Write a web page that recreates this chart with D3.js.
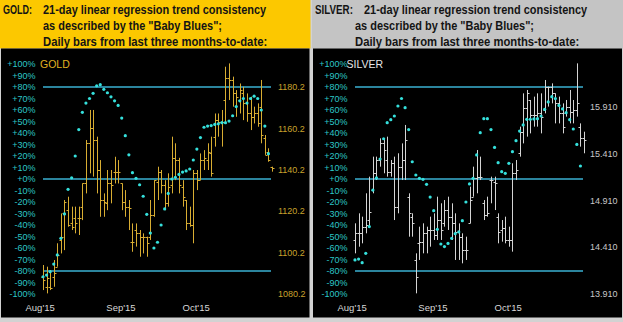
<!DOCTYPE html>
<html><head><meta charset="utf-8">
<script src="https://cdn.jsdelivr.net/npm/d3@7/dist/d3.min.js"></script>
<style>
html,body{margin:0;padding:0;background:#d2d2d2;}
svg{display:block;}
</style></head>
<body><svg id="c" width="623" height="322"></svg>
<script>
// ---------- DATA ----------
const pctTicks = [100,90,80,70,60,50,40,30,20,10,0,-10,-20,-30,-40,-50,-60,-70,-80,-90,-100];
const refLines = [80, 0, -80];
const monthLabels = ["Aug'15","Sep'15","Oct'15"];
const monthIndex = [-0.8, 21.8, 42.8];

const goldTitle = "GOLD";
const goldPriceTicks = [1180.2,1160.2,1140.2,1120.2,1100.2,1080.2];
const goldOpen  = [1088.5,1083.7,1083.7,1088.5,1093.4,1106.3,1119.1,1120.7,1114.3,1116.7,1116.7,1122.4,1133.6,1153.0,1160.2,1154.6,1140.1,1125.6,1124.0,1133.6,1139.3,1139.3,1133.6,1124.8,1122.4,1105.5,1111.1,1109.5,1107.9,1107.9,1107.9,1118.3,1134.4,1139.3,1132.8,1124.0,1132.8,1145.7,1144.9,1132.0,1125.6,1114.3,1113.5,1138.5,1135.2,1144.9,1144.9,1148.1,1156.2,1164.2,1163.4,1173.9,1184.4,1183.6,1177.1,1173.9,1177.1,1172.3,1167.4,1165.8,1167.4,1170.7,1155.4,1148.9,1141.7];
const goldHigh  = [1094.2,1093.4,1091.8,1096.6,1104.7,1119.1,1125.6,1127.2,1122.4,1122.4,1122.4,1133.6,1154.6,1169.1,1169.1,1156.2,1144.9,1128.8,1140.1,1140.1,1146.5,1144.9,1133.6,1130.4,1125.6,1114.3,1114.3,1111.1,1109.5,1107.9,1125.6,1135.2,1141.7,1140.1,1135.2,1138.5,1156.2,1153.0,1146.0,1135.2,1125.6,1122.4,1140.1,1140.1,1148.1,1149.7,1153.0,1156.2,1167.4,1167.4,1169.1,1190.0,1191.6,1185.2,1178.7,1181.9,1180.3,1177.1,1175.5,1170.7,1172.3,1183.6,1157.0,1150.6,1141.7];
const goldLow   = [1082.1,1080.5,1082.1,1083.7,1093.4,1099.8,1101.4,1112.7,1111.1,1109.5,1108.7,1115.9,1128.8,1138.5,1136.9,1128.8,1117.5,1117.5,1120.7,1124.0,1133.6,1133.6,1120.7,1117.5,1111.1,1100.6,1103.1,1098.2,1099.8,1098.2,1106.3,1117.5,1125.6,1128.8,1120.7,1122.4,1128.8,1135.2,1128.8,1122.4,1111.1,1112.7,1104.7,1130.4,1135.2,1140.1,1140.1,1136.9,1151.4,1156.2,1151.4,1162.6,1173.9,1170.7,1165.8,1167.4,1164.2,1163.4,1159.4,1162.6,1161.0,1153.0,1147.4,1144.1,1139.3];
const goldClose = [1086.9,1087.7,1082.9,1090.2,1099.0,1107.9,1124.8,1113.5,1112.7,1114.3,1116.7,1133.6,1153.0,1160.2,1154.6,1140.1,1125.6,1124.8,1133.6,1132.8,1139.3,1139.3,1124.8,1122.4,1121.6,1105.5,1109.5,1107.9,1107.9,1104.7,1118.3,1135.2,1139.3,1132.8,1124.0,1132.0,1145.7,1144.9,1132.8,1127.2,1114.3,1113.5,1138.5,1135.2,1144.9,1145.7,1148.9,1138.5,1164.2,1163.4,1163.4,1184.4,1183.6,1177.1,1175.5,1178.7,1172.3,1167.4,1165.8,1167.4,1162.6,1157.0,1147.4,1144.9,1140.9];
const goldBlues = [-85,-83.5,-80.6,-74,-66,-51.6,-30.4,-9,1,20,43,58,66,70,74.5,81,82,78,75,71.5,68,64,53,37.7,21,5.5,0.6,-5,-15,-30.7,-47,-60,-55,-40,-26,-12.5,0,1.5,4,6,7,8.7,16.5,26,36,45,46,46.5,47.5,48,49,49,50.4,55,63,68,70,66,70,72,70,60,46,22,null];

const silverTitle = "SILVER";
const silverPriceTicks = [15.910,15.410,14.910,14.410,13.910];
const silverOpen  = [14.488,14.559,14.559,14.630,14.701,15.022,15.201,15.343,15.521,15.343,15.218,15.308,14.844,15.272,15.343,14.951,14.737,14.274,14.452,14.470,14.559,14.595,14.595,14.541,14.701,14.666,14.808,14.737,14.666,14.577,14.523,14.381,14.666,14.951,15.147,15.165,14.880,14.755,15.129,15.111,14.737,14.595,14.612,14.488,14.488,15.201,15.415,15.646,15.896,15.985,15.824,15.824,15.842,15.878,16.128,16.128,16.056,15.949,15.842,15.842,15.914,15.860,15.878,15.700,15.575];
const silverHigh  = [14.666,14.773,14.737,14.987,15.165,15.379,15.379,15.575,15.575,15.593,15.343,15.379,15.415,15.521,15.718,14.987,14.773,14.345,14.630,14.666,14.630,14.737,14.773,14.951,14.880,14.915,14.951,14.880,14.773,14.666,14.559,14.523,15.058,15.272,15.450,15.379,14.915,14.951,15.165,15.165,14.773,14.701,14.737,14.630,15.308,15.343,15.700,16.056,16.092,15.985,16.021,16.056,16.056,16.199,16.128,16.163,16.056,16.021,15.949,15.985,16.092,15.985,16.377,15.735,15.646];
const silverLow   = [14.345,14.416,14.452,14.559,14.630,14.987,15.129,15.272,15.201,15.165,15.165,14.701,14.773,15.129,15.129,14.523,14.523,13.917,14.274,14.345,14.345,14.416,14.488,14.488,14.488,14.630,14.595,14.488,14.274,14.274,14.238,14.274,14.666,14.951,14.987,15.129,14.701,14.737,14.880,14.808,14.452,14.470,14.452,14.416,14.363,15.129,15.379,15.521,15.593,15.628,15.700,15.700,15.628,15.842,15.914,15.949,15.735,15.735,15.628,15.807,15.735,15.735,15.807,15.486,15.415];
const silverClose = [14.559,14.559,14.630,14.648,14.791,15.201,15.343,15.521,15.450,15.218,15.308,14.844,15.272,15.343,15.557,14.773,14.666,14.096,14.470,14.559,14.595,14.595,14.541,14.701,14.595,14.808,14.737,14.666,14.577,14.523,14.381,14.381,14.915,15.147,15.165,15.165,14.755,14.773,15.129,15.094,14.577,14.612,14.488,14.488,15.201,15.236,15.646,15.896,16.056,15.824,15.824,15.842,15.807,16.128,16.128,16.056,15.949,15.842,15.700,15.914,15.860,15.878,15.949,15.575,15.557];
const silverBlues = [-70.4,-69.6,-72.8,-64.6,-41.4,-9.6,0.9,17.4,35,49,51.6,54.8,63.5,70,62,43,15,3.5,0.6,-0.3,-4.6,-15.7,-27.5,-43.8,-56.5,-58.8,-56,-51.6,-47.5,-46,-36.2,-20,-4.3,0.6,20.9,40.3,52.5,52.5,43,27.5,14.2,6.4,4.9,13.6,23.8,33.3,41.7,47,51.9,51.9,52.2,52.5,54.8,60.6,67,71.6,69.9,64,60.9,57.7,51.6,43.5,30.1,11.3,null];

const headerLines = ["21-day linear regression trend consistency", "as described by the \"Baby Blues\";", "Daily bars from last three months-to-date:"];

// ---------- DRAW ----------
const svg = d3.select("#c");
const hdrFont = "'Liberation Sans',Arial,sans-serif";
const axFont = "'Liberation Sans',Arial,sans-serif";

// text squeezed horizontally to a target width (narrow bold look)
function fitText(parent, str, x, y, target) {
  const t = parent.append("text").attr("x", 0).attr("y", 0).text(str);
  const w = t.node().getComputedTextLength();
  const sx = target / w;
  t.attr("transform", `translate(${x},${y}) scale(${sx},1)`);
  return t;
}

function panel(cfg) {
  const g = svg.append("g").attr("transform", `translate(${cfg.dx},0)`);
  g.append("rect").attr("x", 0).attr("y", 0).attr("width", cfg.w).attr("height", 48.5).attr("fill", cfg.hdrFill);
  g.append("rect").attr("x", 1).attr("y", 48.5).attr("width", cfg.w - 2).attr("height", 269).attr("fill", "#000");
  const ht = g.append("g").attr("font-family", hdrFont).attr("font-weight", "bold").attr("font-size", 12.5).attr("fill", "#141414");
  fitText(ht, cfg.name + ":", 3, 14, cfg.nameLen);
  const lx = [cfg.l1x, 43, 43], ly = [14, 29.5, 45.5], ll = [223.5, 179, 224.5];
  headerLines.forEach((t, i) => fitText(ht, t, lx[i], ly[i], ll[i]));

  const n = cfg.open.length;
  const x = d3.scaleLinear().domain([0, n - 1]).range([43, 272]);
  const yP = d3.scaleLinear().domain([-100, 100]).range([294, 64]);
  const yV = d3.scaleLinear().domain(cfg.priceDomain).range([294, 87]);

  const la = g.append("g").attr("font-family", axFont).attr("font-size", 9).attr("fill", "#2cc6c6").attr("text-anchor", "end");
  pctTicks.forEach(v => {
    la.append("text").attr("x", 35.5).attr("y", yP(v)).attr("dy", "0.35em").text((v >= 0 ? "+" : "") + v + "%");
  });
  const ra = g.append("g").attr("font-family", axFont).attr("font-size", 9).attr("fill", cfg.priceColor);
  cfg.priceTicks.forEach(v => {
    ra.append("text").attr("x", 278).attr("y", yV(v)).attr("dy", "0.35em").text(v.toFixed(cfg.dec));
  });
  const ma = g.append("g").attr("font-family", axFont).attr("font-size", 9.5).attr("fill", "#d8d8d8").attr("text-anchor", "middle");
  monthLabels.forEach((t, i) => {
    ma.append("text").attr("x", x(monthIndex[i])).attr("y", yP(-100) + 14).attr("dy", "0.35em").text(t);
  });
  g.append("text").attr("x", cfg.titleX).attr("y", yP(100)).attr("dy", "0.35em").attr("font-family", axFont)
    .attr("font-size", 10.5).attr("fill", cfg.titleColor).text(cfg.title);

  refLines.forEach(v => {
    g.append("line").attr("x1", x(0)).attr("x2", x(n - 1) - 1).attr("y1", yP(v)).attr("y2", yP(v))
      .attr("stroke", "#3ab0d2").attr("stroke-width", 1.3);
  });

  const bars = g.append("g").attr("stroke", cfg.barColor).attr("stroke-width", 1).attr("fill", "none");
  d3.range(n).forEach(i => {
    const cx = Math.round(x(i)) + 0.5;
    const yo = Math.round(yV(cfg.open[i])) + 0.5, yc = Math.round(yV(cfg.close[i])) + 0.5;
    bars.append("line").attr("x1", cx).attr("x2", cx).attr("y1", yV(cfg.high[i])).attr("y2", yV(cfg.low[i]));
    bars.append("line").attr("x1", cx - 2).attr("x2", cx).attr("y1", yo).attr("y2", yo);
    bars.append("line").attr("x1", cx).attr("x2", cx + 2).attr("y1", yc).attr("y2", yc);
  });

  g.append("g").selectAll("circle").data(cfg.blues.map((v, i) => [i, v]).filter(d => d[1] !== null))
    .join("circle").attr("cx", d => x(d[0])).attr("cy", d => yP(d[1])).attr("r", 1.6).attr("fill", "#35e0dc");
}

panel({dx: 0, w: 310.5, hdrFill: "#fcc800", name: "GOLD", nameLen: 29, l1x: 43,
  open: goldOpen, high: goldHigh, low: goldLow, close: goldClose, blues: goldBlues,
  priceDomain: [1080.2, 1180.2], priceTicks: goldPriceTicks, dec: 1, priceColor: "#c9a22c",
  title: goldTitle, titleColor: "#e0b020", titleX: 40, barColor: "#d8ad32"});

panel({dx: 312, w: 311, hdrFill: "#c4c4c4", name: "SILVER", nameLen: 38, l1x: 52,
  open: silverOpen, high: silverHigh, low: silverLow, close: silverClose, blues: silverBlues,
  priceDomain: [13.910, 16.124], priceTicks: silverPriceTicks, dec: 3, priceColor: "#c8c8c8",
  title: silverTitle, titleColor: "#e6e6e6", titleX: 34.5, barColor: "#d4d4d4"});
</script></body></html>
